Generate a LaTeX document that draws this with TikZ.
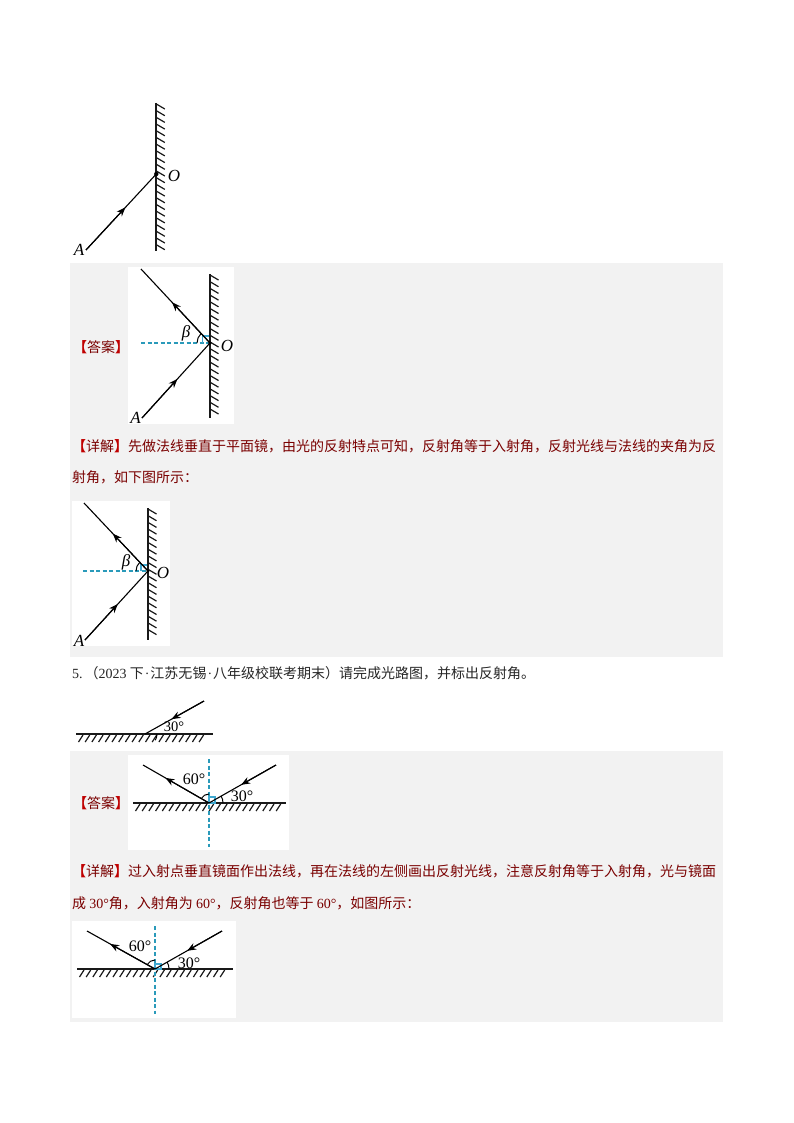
\documentclass[tikz,border=0pt]{standalone}
\usepackage{fontspec}
\setmainfont{Liberation Serif}
\newfontfamily\cjk{Noto Sans CJK SC}
\usetikzlibrary{arrows.meta,calc}
\definecolor{panelgray}{HTML}{F2F2F2}
\definecolor{dred}{HTML}{7A0000}
\definecolor{bred}{HTML}{C00000}
\definecolor{normalc}{HTML}{2A9ABA}
\definecolor{squarec}{HTML}{3FA8D0}
\tikzset{
  panel/.style={fill=panelgray,draw=none},
  photo/.style={fill=white,draw=none},
  mirrorline/.style={line width=1.7pt,black!90},
  hatchline/.style={line width=1.2pt,black!90},
  ray/.style={line width=1.1pt,black},
  raytip/.style={-{Stealth[length=9pt,width=7pt]},line width=1.1pt,black},
  normalline/.style={line width=1.2pt,normalc,dash pattern=on 4pt off 2.5pt},
  squarebox/.style={line width=1.1pt,squarec},
  anglearc/.style={line width=1pt,black},
  lab/.style={inner sep=0pt,font=\fontsize{16}{16}\selectfont},
  smalllab/.style={inner sep=0pt,font=\fontsize{14.5}{14.5}\selectfont},
  italab/.style={inner sep=0pt,font=\fontsize{17}{17}\selectfont\itshape},
  redtext/.style={anchor=west,inner sep=0pt,text=dred,font=\fontsize{14}{14}\selectfont\cjk},
  blacktext/.style={anchor=west,inner sep=0pt,text=black!85,font=\fontsize{14}{14}\selectfont\cjk},
}
\newcommand{\mirV}[3]{% x, top, bottom : vertical mirror, hatches down-right
  \draw[mirrorline] (#1,#2) -- (#1,#3);
  \pgfmathtruncatemacro{\hn}{(#3-#2-6)/6.7}
  \foreach \i in {0,...,\hn}{\draw[hatchline] (#1,#2+1+\i*6.7) -- ++(8.5,5);}
}
\newcommand{\mirH}[3]{% y, left, right : horizontal mirror, hatches down-left
  \draw[mirrorline] (#2,#1) -- (#3,#1);
  \pgfmathtruncatemacro{\hn}{(#3-#2-12)/6.7}
  \foreach \i in {0,...,\hn}{\draw[hatchline] (#2+7+\i*6.7,#1+1) -- ++(-4.5,7);}
}
\newcommand{\angarc}[4]{% centre, from (visual deg), to (visual deg), radius
  \draw[anglearc] ([shift={(-#2:#4)}]#1) arc[start angle=-#2,end angle=-#3,radius=#4];
}
\newcommand{\hd}[1]{{\color{bred}\bfseries【}#1{\color{bred}\bfseries】}}
\newcommand{\rmdot}{{\rmfamily\kern1pt·\kern1pt}}
\begin{document}
\begin{tikzpicture}[x=1pt,y=-1pt]
\useasboundingbox (0,0) rectangle (794,1123);
\fill[white] (0,0) rectangle (794,1123);
% panels
\path[panel] (70,263) rectangle (723,657);
\path[panel] (70,751) rectangle (723,1022);
\path[photo] (128,267) rectangle (234,424);
\path[photo] (72,501) rectangle (170,646);
\path[photo] (128,755) rectangle (289,850);
\path[photo] (72,921) rectangle (236,1018);

% figure 1
\mirV{156.3}{103}{251}
\coordinate (o1) at (156.3,174);
\coordinate (a1) at (86,250);
\draw[ray] (a1) -- (o1);
\draw[raytip] (a1) -- ($(a1)!0.56!(o1)$);
\fill (o1) circle (2.2);
\node[italab] (la1) at (79,250) {A};
\node[italab] (lo1) at (174,176) {O};

% figure 2
\mirV{210}{274}{418}
\coordinate (o2) at (210,343);
\coordinate (a2) at (142,418);
\coordinate (r2) at (141,269);
\coordinate (n2) at (141,343);
\draw[normalline] (n2) -- (o2);
\draw[squarebox] (202.5,343) -- (202.5,336) -- (209,336);
\draw[ray] (a2) -- (o2);
\draw[ray] (o2) -- (r2);
\draw[raytip] (a2) -- ($(a2)!0.52!(o2)$);
\draw[raytip] (o2) -- ($(o2)!0.55!(r2)$);
\fill (o2) circle (1.8);
\angarc{o2}{180}{133}{13}
\node[italab] (lb2) at (186,333) {β};
\node[italab] (lo2) at (227,346) {O};
\node[italab] (la2) at (135.5,418) {A};
\node[redtext] (t1) at (73,347) {\hd{答案}};

% text lines
\node[redtext] (t2) at (72,446) {\hd{详解}先做法线垂直于平面镜，由光的反射特点可知，反射角等于入射角，反射光线与法线的夹角为反};
\node[redtext] (t3) at (72,477) {射角，如下图所示：};

% figure 3
\mirV{148}{508}{640}
\coordinate (o3) at (148,571);
\coordinate (a3) at (85,640);
\coordinate (r3) at (84,503);
\coordinate (n3) at (83,571);
\draw[normalline] (n3) -- (o3);
\draw[squarebox] (141,571) -- (141,565) -- (147,565);
\draw[ray] (a3) -- (o3);
\draw[ray] (o3) -- (r3);
\draw[raytip] (a3) -- ($(a3)!0.52!(o3)$);
\draw[raytip] (o3) -- ($(o3)!0.55!(r3)$);
\fill (o3) circle (1.7);
\angarc{o3}{180}{133}{12}
\node[italab] (lb3) at (126,562) {β};
\node[italab] (lo3) at (163,573) {O};
\node[italab] (la3) at (79,641) {A};

% question line
\node[blacktext] (t4) at (72,673) {{\rmfamily 5.}\kern2pt（{\rmfamily 2023} 下\rmdot 江苏无锡\rmdot 八年级校联考期末）请完成光路图，并标出反射角。};

% figure 4
\mirH{734}{76}{213}
\coordinate (o4) at (145,734);
\coordinate (r4) at (204,701);
\draw[ray] (r4) -- (o4);
\draw[raytip] (r4) -- ($(r4)!0.55!(o4)$);
\angarc{o4}{0}{-31}{12}
\node[smalllab] (l4) at (174,727) {30°};

% answer label 2
\node[redtext] (t5) at (73,803) {\hd{答案}};

% figure 5
\mirH{803}{133}{286}
\coordinate (o5) at (209,803);
\coordinate (l5) at (143,765);
\coordinate (r5) at (276,765);
\coordinate (nt5) at (209,759);
\coordinate (nb5) at (209,847);
\draw[normalline] (nt5) -- (nb5);
\draw[squarebox] (209,797) rectangle (215,803);
\draw[ray] (r5) -- (o5);
\draw[ray] (o5) -- (l5);
\draw[raytip] (r5) -- ($(r5)!0.52!(o5)$);
\draw[raytip] (o5) -- ($(o5)!0.66!(l5)$);
\angarc{o5}{90}{150}{9}
\angarc{o5}{0}{30}{14}
\node[lab] (l60a) at (194,779) {60°};
\node[lab] (l30a) at (242,796) {30°};

% text lines
\node[redtext] (t6) at (72,871) {\hd{详解}过入射点垂直镜面作出法线，再在法线的左侧画出反射光线，注意反射角等于入射角，光与镜面};
\node[redtext] (t7) at (72,903) {成 {\rmfamily 30°}角，入射角为 {\rmfamily 60°}，反射角也等于 {\rmfamily 60°}，如图所示：};

% figure 6
\mirH{969}{77}{233}
\coordinate (o6) at (155,969);
\coordinate (l6) at (87,931);
\coordinate (r6) at (222,931);
\coordinate (nt6) at (155,926);
\coordinate (nb6) at (155,1014);
\draw[normalline] (nt6) -- (nb6);
\draw[squarebox] (155,964) rectangle (161,969);
\draw[ray] (r6) -- (o6);
\draw[ray] (o6) -- (l6);
\draw[raytip] (r6) -- ($(r6)!0.52!(o6)$);
\draw[raytip] (o6) -- ($(o6)!0.66!(l6)$);
\angarc{o6}{90}{150}{9}
\angarc{o6}{0}{30}{14}
\node[lab] (l60b) at (140,946) {60°};
\node[lab] (l30b) at (189,963) {30°};
\end{tikzpicture}
\end{document}
